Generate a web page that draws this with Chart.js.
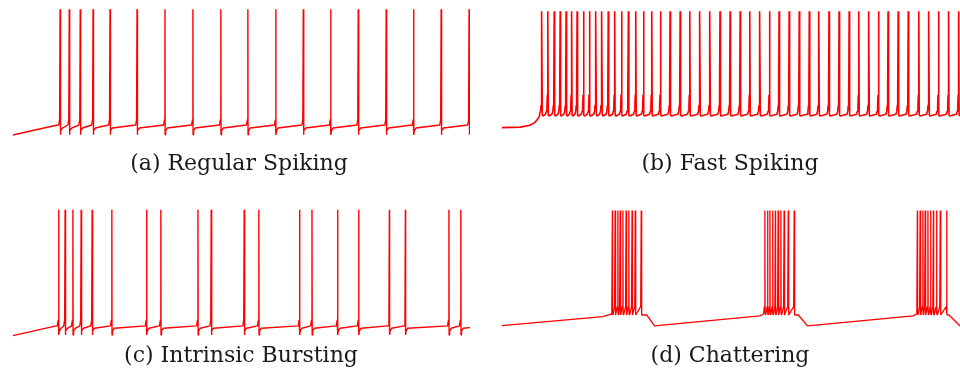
<!DOCTYPE html>
<html>
<head>
<meta charset="utf-8">
<script src="https://cdn.jsdelivr.net/npm/chart.js@4"></script>
<style>
  body { margin: 0; background: #fff; }
  #wrap { position: relative; width: 960px; height: 380px; overflow: hidden; }
  canvas { position: absolute; }
  .cap {
    position: absolute;
    width: 460px;
    text-align: center;
    font-family: "DejaVu Serif", serif;
    font-size: 22px;
    line-height: 30px;
    color: #1a1a1a;
  }
</style>
</head>
<body>
<div id="wrap">
  <canvas id="rsChart" width="458" height="150" style="left:12px;top:0px"></canvas>
  <canvas id="fsChart" width="458" height="150" style="left:502px;top:0px"></canvas>
  <canvas id="ibChart" width="458" height="150" style="left:12px;top:200px"></canvas>
  <canvas id="chChart" width="458" height="150" style="left:502px;top:200px"></canvas>
  <div class="cap" style="left:9px;top:148px">(a) Regular Spiking</div>
  <div class="cap" style="left:500px;top:148px">(b) Fast Spiking</div>
  <div class="cap" style="left:11px;top:340px">(c) Intrinsic Bursting</div>
  <div class="cap" style="left:500px;top:340px">(d) Chattering</div>
</div>
<script>
// Time axis (ms) and membrane potential axis (mV)
const T_MAX = 1000;
const V_MIN = -77;
const V_MAX = 37;
const TRACE_COLOR = "#ff0000";

// (a) Regular spiking: spike times (ms), levels (mV)
const rsSpikes = [105, 125, 149, 177, 214, 273, 334, 395, 456, 515, 576, 636, 696, 756, 817, 877, 937, 998];
const rsBaseline = [[2, -65.6], [50, -61.8], [97, -58.2]];
const rsPeak = 30;
const rsReset = -65.5;
const rsAfter = [[1.5, -62.5], [5, -60.3]];
const rsBefore = [[-3, -58], [-1, -54]];

// (b) Fast spiking
const fsSpikes = [87, 100, 114, 127, 140, 152, 164, 178, 191, 205, 218, 232, 246, 261, 276, 292, 309, 327, 346, 367,
  389, 410, 432, 454, 476, 498, 520, 541, 563, 584, 605, 627, 649, 671, 692, 714, 736, 758, 779, 801,
  822, 843, 865, 887, 910, 932, 953, 975, 997];
const fsBaseline = [[0, -60], [40, -59.6], [61, -58.2], [72, -56], [78, -53.5], [82, -51]];
const fsPeak = 28.5;
const fsReset = -50.5;
const fsAfter = [[2.5, -51.2]];
const fsBefore = [[-5, -49.8], [-3, -47.5], [-1.8, -43], [-1, -35]];

// (c) Intrinsic bursting
const ibSpikes = [102, 116, 133, 151, 175, 218, 294, 325, 406, 435, 507, 539, 628, 655, 711, 757, 824, 859, 954, 980];
const ibBaseline = [[2, -66.1], [50, -62.3], [97, -58.7], [1000, -60]];
const ibPeak = 29.5;
const ibReset = -65.6;
const ibAfter = [[1.5, -62.5], [5, -60.5]];
const ibBefore = [[-3, -58.7], [-1, -54]];

// (d) Chattering
const chSpikes = [241, 247, 253, 258, 264, 271, 277, 284, 291, 304,
  574, 580, 585, 591, 597, 603, 609, 616, 625, 638,
  907, 913, 919, 924, 930, 936, 942, 949, 957, 971];
const chBaseline = [[0, -58.5], [220, -51.7], [238, -49.8], [316, -50.4], [333, -58.7],
  [563, -51.1], [571, -49.6], [647, -50.4], [667, -58.7],
  [898, -51.1], [905, -49.6], [976, -50.4], [1000, -58.7]];
const chPeak = 29;
const chReset = -49.6;
const chAfter = [[1.5, -50.4]];
const chBefore = [[-1.2, -44]];

// Build the voltage trace from spike times and the read levels
const buildTrace = (spikes, baseline, peak, reset, after, before, fallDt = 0.4) => {
  const pts = baseline.map(([x, y]) => ({ x, y }));
  spikes.forEach((t) => {
    before.forEach(([dt, v]) => pts.push({ x: t + dt, y: v }));
    pts.push({ x: t, y: peak });
    pts.push({ x: t + fallDt, y: reset });
    after.forEach(([dt, v]) => pts.push({ x: t + dt, y: v }));
  });
  return pts.sort((a, b) => a.x - b.x);
};

const initTraceChart = (id, data, width) => {
  const ctx = document.getElementById(id)?.getContext("2d");
  if (!ctx) return;
  new Chart(ctx, {
    type: "line",
    data: {
      datasets: [
        {
          data,
          borderColor: TRACE_COLOR,
          borderWidth: width,
          borderJoinStyle: "bevel",
          pointRadius: 0,
          fill: false,
          tension: 0,
        },
      ],
    },
    options: {
      responsive: false,
      animation: false,
      devicePixelRatio: 1,
      layout: { padding: 0 },
      scales: {
        x: { type: "linear", min: 0, max: T_MAX, display: false },
        y: { min: V_MIN, max: V_MAX, display: false },
      },
      plugins: { legend: { display: false }, tooltip: { enabled: false } },
    },
  });
};

initTraceChart("rsChart", buildTrace(rsSpikes, rsBaseline, rsPeak, rsReset, rsAfter, rsBefore), 1.4);
initTraceChart("fsChart", buildTrace(fsSpikes, fsBaseline, fsPeak, fsReset, fsAfter, fsBefore, 1), 1.6);
initTraceChart("ibChart", buildTrace(ibSpikes, ibBaseline, ibPeak, ibReset, ibAfter, ibBefore), 1.4);
initTraceChart("chChart", buildTrace(chSpikes, chBaseline, chPeak, chReset, chAfter, chBefore), 1.3);
</script>
</body>
</html>
